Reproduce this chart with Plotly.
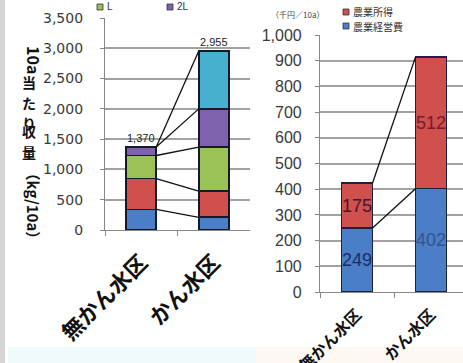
import plotly.graph_objects as go

W, H = 463, 363
def px(x): return x / W
def py(y): return 1 - y / H

# ---------------- data ----------------
categories = ["無かん水区", "かん水区"]

# left chart: yield per 10a by grade (bottom -> top)
grade_names = ["S", "M", "L", "2L", "3L"]
grade_colors = ["#4a7ec6", "#cf504c", "#9bc257", "#7f62ad", "#47b0cf"]
grade_values = [
    [340, 210],   # S
    [510, 430],   # M
    [380, 730],   # L
    [140, 630],   # 2L
    [0, 955],     # 3L
]
yield_totals_text = ["1,370", "2,955"]

# right chart: cost & income (thousand yen / 10a)
cost_names = ["農業経営費", "農業所得"]
cost_colors = ["#4a7ec6", "#cf504c"]
cost_values = [
    [249, 402],   # 農業経営費
    [175, 512],   # 農業所得
]
cost_text_colors = [["#1c2c66", "#35528f"], ["#4a1530", "#7a1a2a"]]

left_yticks = [0, 500, 1000, 1500, 2000, 2500, 3000, 3500]
right_yticks = list(range(0, 1001, 100))

# ---------------- figure ----------------
fig = go.Figure()
wl = 0.414
wr = 0.42

for name, col, vals in zip(grade_names, grade_colors, grade_values):
    fig.add_trace(go.Bar(
        x=categories, y=vals, name=name, width=wl,
        marker=dict(color=col, line=dict(color="#151a2a", width=1.6)),
        xaxis="x", yaxis="y", showlegend=False, hoverinfo="skip"))

for name, col, vals, tc in zip(cost_names, cost_colors, cost_values, cost_text_colors):
    fig.add_trace(go.Bar(
        x=categories, y=vals, name=name, width=wr,
        marker=dict(color=col, line=dict(color="#1a2240", width=1.6)),
        text=[str(v) for v in vals], textposition="inside",
        insidetextanchor="middle", textangle=0, constraintext="none",
        textfont=dict(family="Liberation Sans, Arial", size=18, color=tc),
        xaxis="x2", yaxis="y2", showlegend=False, hoverinfo="skip"))

shapes = []
# connector lines, left chart
cum = [0, 0]
for vals in grade_values:
    cum = [cum[0] + vals[0], cum[1] + vals[1]]
    shapes.append(dict(type="line", xref="x", yref="y",
                       x0=0 + wl / 2, x1=1 - wl / 2, y0=cum[0], y1=cum[1],
                       line=dict(color="#111111", width=1.3)))
left_totals = cum[:]
# connector lines, right chart
cum = [0, 0]
for vals in cost_values:
    cum = [cum[0] + vals[0], cum[1] + vals[1]]
    shapes.append(dict(type="line", xref="x2", yref="y2",
                       x0=0 + wr / 2, x1=1 - wr / 2, y0=cum[0], y1=cum[1],
                       line=dict(color="#111111", width=1.3)))

# page decorations
shapes.append(dict(type="rect", xref="paper", yref="paper", x0=0, x1=px(5),
                   y0=0, y1=1, fillcolor="#d6d6d6", line=dict(width=0), layer="below"))
shapes.append(dict(type="rect", xref="paper", yref="paper", x0=px(8), x1=px(255),
                   y0=0, y1=py(347), fillcolor="#eefafc", line=dict(width=0), layer="below"))
shapes.append(dict(type="rect", xref="paper", yref="paper", x0=px(255), x1=1,
                   y0=0, y1=py(347), fillcolor="#fdf9f2", line=dict(width=0), layer="below"))

# legend squares
def sq(x, y, col):
    shapes.append(dict(type="rect", xref="paper", yref="paper",
                       x0=px(x - 3), x1=px(x + 3), y0=py(y + 3), y1=py(y - 3),
                       fillcolor=col, line=dict(color="#333", width=0.8)))
sq(100, 7, grade_colors[2])
sq(170, 7, grade_colors[3])
sq(346, 12, cost_colors[1])
sq(346, 26, cost_colors[0])

ann = []
# totals above left bars
for c, t, tot in zip(categories, yield_totals_text, left_totals):
    ann.append(dict(x=c, y=tot, xref="x", yref="y", text=t, showarrow=False,
                    yanchor="bottom", yshift=1,
                    font=dict(family="Liberation Sans, Arial", size=11, color="#222")))

# legend texts
ann.append(dict(x=px(105), y=py(7), xref="paper", yref="paper", text="L",
                showarrow=False, xanchor="left", yanchor="middle",
                font=dict(family="Liberation Sans", size=10, color="#333")))
ann.append(dict(x=px(175), y=py(7), xref="paper", yref="paper", text="2L",
                showarrow=False, xanchor="left", yanchor="middle",
                font=dict(family="Liberation Sans", size=10, color="#333")))
ann.append(dict(x=px(351), y=py(11.5), xref="paper", yref="paper", text="農業所得",
                showarrow=False, xanchor="left", yanchor="middle",
                font=dict(family="Noto Sans CJK JP", size=10, color="#333")))
ann.append(dict(x=px(351), y=py(26.5), xref="paper", yref="paper", text="農業経営費",
                showarrow=False, xanchor="left", yanchor="middle",
                font=dict(family="Noto Sans CJK JP", size=10, color="#333")))
ann.append(dict(x=px(297), y=py(15), xref="paper", yref="paper", text="（千円／10a）",
                showarrow=False, xanchor="center", yanchor="middle",
                font=dict(family="Noto Sans CJK JP", size=8, color="#444")))

# vertical axis title (tategaki style)
tfont = dict(family="Noto Sans CJK JP", size=16, color="#111", weight="bold")
ann.append(dict(x=px(20), y=py(44), xref="paper", yref="paper", text="10a",
                textangle=90, showarrow=False, font=tfont))
for i, ch in enumerate("当たり収量"):
    ann.append(dict(x=px(20), y=py(70 + i * 20.5), xref="paper", yref="paper",
                    text=ch, showarrow=False,
                    font=dict(family="Noto Sans CJK JP", size=14, color="#111",
                              weight="bold")))
ann.append(dict(x=px(20), y=py(206), xref="paper", yref="paper", text="（kg/10a）",
                textangle=90, showarrow=False,
                font=dict(family="Noto Sans CJK JP", size=15, color="#111", weight="bold")))

grid = "#a2a2a2"
fig.update_layout(
    width=W, height=H, margin=dict(l=0, r=0, t=0, b=0, autoexpand=False),
    paper_bgcolor="white", plot_bgcolor="white",
    barmode="stack", showlegend=False,
    shapes=shapes, annotations=ann,
    xaxis=dict(domain=[px(105), px(250)], anchor="y", type="category", automargin=False,
               range=[-0.5, 1.5], tickson="boundaries", ticks="outside", ticklen=5,
               tickcolor="#888", showline=True, linecolor="#888", linewidth=1.2,
               tickangle=-45, showgrid=False, ticklabelstandoff=10,
               tickfont=dict(family="Noto Sans CJK JP", size=22, color="#111", weight="bold")),
    yaxis=dict(domain=[py(230), py(18)], anchor="x", range=[0, 3500], automargin=False,
               tickvals=left_yticks, tickformat=",", showgrid=True, gridcolor=grid,
               gridwidth=1.6, showline=True, linecolor="#888", linewidth=1.2,
               ticks="outside", ticklen=4, tickcolor="#888", ticklabelstandoff=14,
               zeroline=False,
               tickfont=dict(family="DejaVu Sans", size=14, color="#3a3a3a")),
    xaxis2=dict(domain=[px(320), 1], anchor="y2", type="category", automargin=False,
                range=[-0.5, 1.432], tickson="boundaries", ticks="outside", ticklen=5,
                tickcolor="#888", showline=True, linecolor="#888", linewidth=1.2,
                tickangle=-45, showgrid=False, ticklabelstandoff=6,
                tickfont=dict(family="Noto Sans CJK JP", size=16, color="#111", weight="bold")),
    yaxis2=dict(domain=[py(292), py(35)], anchor="x2", range=[0, 1000], automargin=False,
                tickvals=right_yticks, tickformat=",", showgrid=True, gridcolor=grid,
                gridwidth=1.6, showline=True, linecolor="#888", linewidth=1.2,
                ticks="outside", ticklen=4, tickcolor="#888", ticklabelstandoff=10,
                zeroline=False,
                tickfont=dict(family="Liberation Sans, Arial", size=16, color="#3a3a3a")),
)

fig.write_html("out.html")
